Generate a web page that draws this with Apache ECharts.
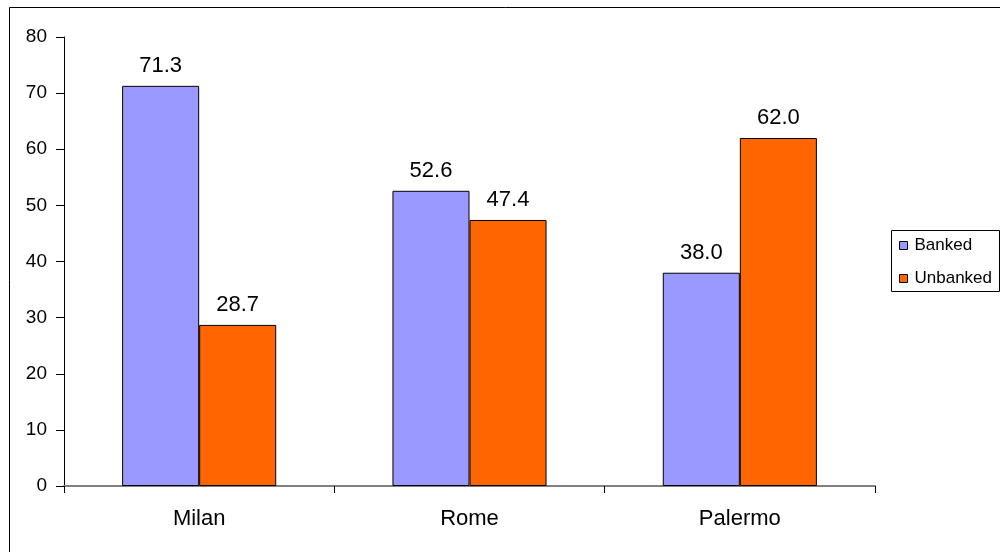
<!DOCTYPE html>
<html>
<head>
<meta charset="utf-8">
<script src="https://cdn.jsdelivr.net/npm/echarts@6/dist/echarts.min.js"></script>
<style>
  html, body { margin: 0; padding: 0; background: #fff; }
  #chart { width: 1000px; height: 552px; }
</style>
</head>
<body>
<div id="chart"></div>
<script>
// City categories and share of population (%) by banking status
const cities = ['Milan', 'Rome', 'Palermo'];
const banked = [71.3, 52.6, 38.0];
const unbanked = [28.7, 47.4, 62.0];
const seriesNames = ['Banked', 'Unbanked'];

const FONT = 'Liberation Sans, Arial, sans-serif';

const chart = echarts.init(document.getElementById('chart'), null, { renderer: 'canvas' });

const barLabel = {
  show: true,
  position: 'top',
  distance: 9,
  color: '#000',
  fontFamily: FONT,
  fontSize: 22,
  formatter: p => p.value.toFixed(1)
};

chart.setOption({
  animation: false,
  backgroundColor: '#fff',
  graphic: [
    // outer frame
    { type: 'rect', left: 7, top: 5, shape: { width: 1000, height: 546 },
      style: { fill: 'none', stroke: '#000', lineWidth: 1 }, silent: true },
    // legend frame
    { type: 'rect', left: 891, top: 230, shape: { width: 108, height: 61 },
      style: { fill: '#fff', stroke: '#000', lineWidth: 1 }, silent: true, z: 0 }
  ],
  grid: { left: 64, right: 125, top: 37, bottom: 66, containLabel: false },
  legend: {
    data: seriesNames,
    orient: 'vertical',
    left: 891,
    top: 237,
    padding: [0, 0, 0, 8],
    itemWidth: 8,
    itemHeight: 8,
    itemGap: 16,
    icon: 'rect',
    textStyle: { fontFamily: FONT, fontSize: 17, color: '#000', padding: [0, 0, 0, 2] },
    itemStyle: { borderColor: '#000', borderWidth: 1 },
    z: 5
  },
  xAxis: {
    type: 'category',
    data: cities,
    axisLine: { lineStyle: { color: '#808080', width: 2 } },
    axisTick: { show: true, length: 7, lineStyle: { color: '#000', width: 1 } },
    axisLabel: { color: '#000', fontFamily: FONT, fontSize: 22, margin: 22 }
  },
  yAxis: {
    type: 'value',
    min: 0,
    max: 80,
    interval: 10,
    splitLine: { show: false },
    axisLine: { show: true, lineStyle: { color: '#000', width: 1 } },
    axisTick: { show: true, length: 8, lineStyle: { color: '#000' } },
    axisLabel: { color: '#000', fontFamily: FONT, fontSize: 19, margin: 17 }
  },
  series: [
    {
      name: seriesNames[0],
      type: 'bar',
      data: banked,
      barGap: '0%',
      barCategoryGap: '43%',
      itemStyle: { color: '#9999FF', borderColor: '#000', borderWidth: 1 },
      label: barLabel
    },
    {
      name: seriesNames[1],
      type: 'bar',
      data: unbanked,
      itemStyle: { color: '#FF6600', borderColor: '#000', borderWidth: 1 },
      label: barLabel
    }
  ]
});
</script>
</body>
</html>
